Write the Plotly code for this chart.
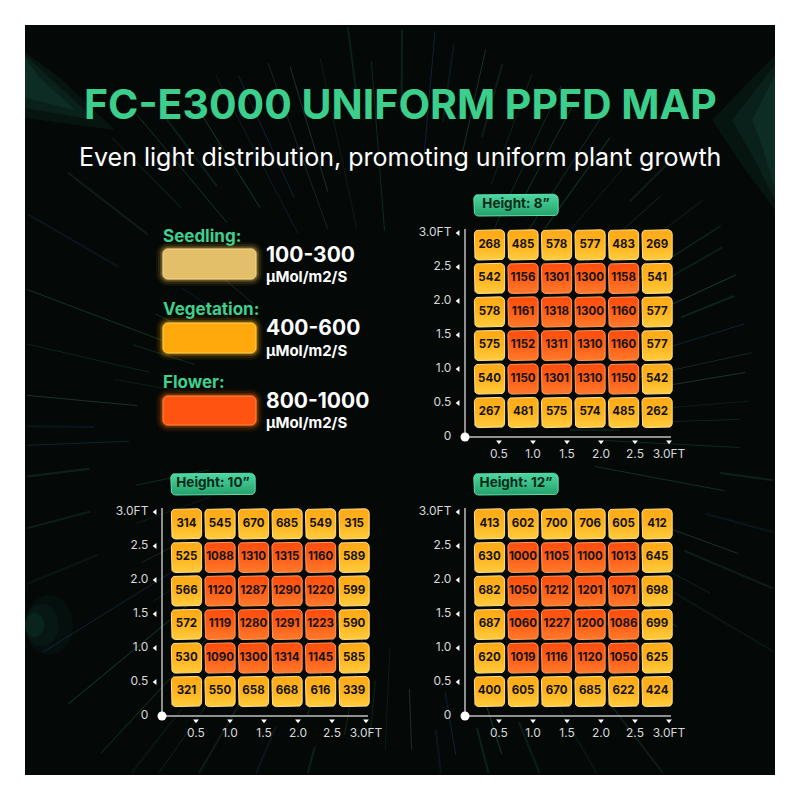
import numpy as np
import plotly.graph_objects as go

# ---------------- data ----------------
TITLE = "FC-E3000 UNIFORM PPFD MAP"
SUBTITLE = "Even light distribution, promoting uniform plant growth"

height_labels = ["Height: 8”", "Height: 10”", "Height: 12”"]

# rows listed from top (3.0 ft) to bottom (0.5 ft)
ppfd_8in = [
    [268, 485, 578, 577, 483, 269],
    [542, 1156, 1301, 1300, 1158, 541],
    [578, 1161, 1318, 1300, 1160, 577],
    [575, 1152, 1311, 1310, 1160, 577],
    [540, 1150, 1301, 1310, 1150, 542],
    [267, 481, 575, 574, 485, 262],
]
ppfd_10in = [
    [314, 545, 670, 685, 549, 315],
    [525, 1088, 1310, 1315, 1160, 589],
    [566, 1120, 1287, 1290, 1220, 599],
    [572, 1119, 1280, 1291, 1223, 590],
    [530, 1090, 1300, 1314, 1145, 585],
    [321, 550, 658, 668, 616, 339],
]
ppfd_12in = [
    [413, 602, 700, 706, 605, 412],
    [630, 1000, 1105, 1100, 1013, 645],
    [682, 1050, 1212, 1201, 1071, 698],
    [687, 1060, 1227, 1200, 1086, 699],
    [620, 1019, 1116, 1120, 1050, 625],
    [400, 605, 670, 685, 622, 424],
]
x_tick_vals = [0.5, 1.0, 1.5, 2.0, 2.5, 3.0]
x_tick_text = ["0.5", "1.0", "1.5", "2.0", "2.5", "3.0FT"]
y_tick_vals = [0, 0.5, 1.0, 1.5, 2.0, 2.5, 3.0]
y_tick_text = ["0", "0.5", "1.0", "1.5", "2.0", "2.5", "3.0FT"]

stage_names = ["Seedling:", "Vegetation:", "Flower:"]
stage_ranges = ["100-300", "400-600", "800-1000"]
stage_unit = "µMol/m2/S"

# ---------------- layout helpers ----------------
W = H = 800
S = 68.0                      # pixels per foot
XR = [-0.4, 3.3]
YR = [-0.45, 3.65]
origins = [(465, 437), (162, 716), (465, 716)]
grids = [ppfd_8in, ppfd_10in, ppfd_12in]

FONT = "Inter, 'Open Sans', sans-serif"


def px(x):
    return x / W


def py(y):
    return 1 - y / H


def rr_pts(x0, y0, x1, y1, r, n=7):
    pts = []
    corners = [(x1 - r, y1 - r, 0), (x0 + r, y1 - r, 90), (x0 + r, y0 + r, 180), (x1 - r, y0 + r, 270)]
    for cx, cy, a0 in corners:
        for t in np.linspace(a0, a0 + 90, n):
            pts.append((cx + r * np.cos(np.radians(t)), cy + r * np.sin(np.radians(t))))
    pts.append(pts[0])
    return [p[0] for p in pts], [p[1] for p in pts]


def rr_path_px(x0, y0, x1, y1, r):
    xs, ys = rr_pts(x0, y0, x1, y1, r)
    return "M " + " L ".join(f"{px(a):.5f},{py(b):.5f}" for a, b in zip(xs, ys)) + " Z"


def poly_path(pts):
    return "M " + " L ".join(f"{px(a):.5f},{py(b):.5f}" for a, b in pts) + " Z"


fig = go.Figure()
shapes = []
annotations = []

# ---------------- background ----------------
shapes.append(dict(type="rect", xref="paper", yref="paper", x0=px(25), x1=px(775),
                   y0=py(775), y1=py(25), fillcolor="#040807", line=dict(width=0), layer="below"))

# soft teal light beams at the edges (layered for a fade)
for k, op in enumerate((0.10, 0.10, 0.12)):
    d = 10 * k
    shapes.append(dict(type="path", xref="paper", yref="paper", layer="below",
                       path=poly_path([(25, 52 + d * 0.3), (60 - d, 78), (115 - 2 * d, 130 - d), (25, 118 - d)]),
                       fillcolor="#2a8a70", opacity=op, line=dict(width=0)))
    shapes.append(dict(type="path", xref="paper", yref="paper", layer="below",
                       path=poly_path([(775, 55 + d), (775, 210 - d), (742 + d, 165 - d), (712 + 2 * d, 120)]),
                       fillcolor="#2a8a70", opacity=op, line=dict(width=0)))
for k, op in enumerate((0.06, 0.08, 0.1)):
    r = 30 - 9 * k
    shapes.append(dict(type="circle", xref="paper", yref="paper", layer="below",
                       x0=px(25), x1=px(25 + 1.6 * r), y0=py(625 + r), y1=py(625 - r),
                       fillcolor="#2a8a70", opacity=op, line=dict(width=0)))

# light-speed rays (decorative)
CX, CY = 400, 430
ray_cols = ["#2f9a64", "#3bb07f", "#2a5c8f", "#4d8f6a", "#235f4d"]
for k in range(90):
    a = np.radians((k * 137.508) % 360)
    r0 = 170 + (k * 53) % 160
    r1 = r0 + 50 + (k * 37) % 130
    dx, dy = np.cos(a), np.sin(a)
    tmax = 1e9
    for dd, c in ((dx, CX), (dy, CY)):
        if dd > 1e-6:
            tmax = min(tmax, (773 - c) / dd)
        elif dd < -1e-6:
            tmax = min(tmax, (27 - c) / dd)
    if r0 >= tmax:
        continue
    r1 = min(r1, tmax)
    x0, y0 = CX + dx * r0, CY + dy * r0
    x1, y1 = CX + dx * r1, CY + dy * r1
    shapes.append(dict(type="line", xref="paper", yref="paper", layer="below",
                       x0=px(x0), y0=py(y0), x1=px(x1), y1=py(y1),
                       line=dict(color=ray_cols[k % len(ray_cols)], width=1 + (k % 3 == 0)),
                       opacity=0.15 + 0.08 * (k % 3)))

# ---------------- title ----------------
annotations.append(dict(x=0.5, y=py(104), xref="paper", yref="paper", showarrow=False,
                        text=f"<b>{TITLE}</b>", xanchor="center", yanchor="middle",
                        font=dict(family=FONT, size=41, color="#3ccf8c", weight=800)))
annotations.append(dict(x=0.5, y=py(157), xref="paper", yref="paper", showarrow=False,
                        text=SUBTITLE, xanchor="center", yanchor="middle",
                        font=dict(family=FONT, size=25, color="#ffffff")))

# ---------------- legend ----------------
leg_boxes = [(249, 279), (323, 353), (396, 425)]
leg_fill = ["#E4BF69", "#FFA90C", "#FF5312"]
leg_glow = ["#F2C24A", "#FFB000", "#FF6A00"]
leg_edge = ["#F6DA90", "#FFD160", "#FF8A45"]
leg_label_y = [236, 309, 382]
leg_range_y = [254, 328, 400]
leg_unit_y = [276, 350, 422]
for i in range(3):
    y0, y1 = leg_boxes[i]
    for g, op in ((7, 0.06), (5, 0.1), (3, 0.18), (1.5, 0.3)):
        shapes.append(dict(type="path", xref="paper", yref="paper", layer="above",
                           path=rr_path_px(163 - g, y0 - g, 256 + g, y1 + g, 5 + g),
                           fillcolor=leg_glow[i], opacity=op, line=dict(width=0)))
    shapes.append(dict(type="path", xref="paper", yref="paper", layer="above",
                       path=rr_path_px(163, y0, 256, y1, 5),
                       fillcolor=leg_fill[i], line=dict(color=leg_edge[i], width=1)))
    annotations.append(dict(x=px(161), y=py(leg_label_y[i]), xref="paper", yref="paper",
                            showarrow=False, xanchor="left", yanchor="middle",
                            text=f"<b>{stage_names[i]}</b>",
                            font=dict(family=FONT, size=17, color="#3fd08f")))
    annotations.append(dict(x=px(264), y=py(leg_range_y[i]), xref="paper", yref="paper",
                            showarrow=False, xanchor="left", yanchor="middle",
                            text=f"<b>{stage_ranges[i]}</b>",
                            font=dict(family=FONT, size=21, color="#ffffff", weight=800)))
    annotations.append(dict(x=px(264), y=py(leg_unit_y[i]), xref="paper", yref="paper",
                            showarrow=False, xanchor="left", yanchor="middle",
                            text=f"<b>{stage_unit}</b>",
                            font=dict(family=FONT, size=15, color="#ffffff")))

# ---------------- grids ----------------
layout_axes = {}
for g, (grid, (ox, oy)) in enumerate(zip(grids, origins)):
    sfx = "" if g == 0 else str(g + 1)
    xa, ya = "x" + sfx, "y" + sfx
    layout_axes["xaxis" + sfx] = dict(
        domain=[(ox + XR[0] * S) / W, (ox + XR[1] * S) / W], range=XR, visible=False,
        anchor=ya, fixedrange=True, showgrid=False, zeroline=False)
    layout_axes["yaxis" + sfx] = dict(
        domain=[1 - (oy - YR[0] * S) / H, 1 - (oy - YR[1] * S) / H], range=YR, visible=False,
        anchor=xa, fixedrange=True, showgrid=False, zeroline=False)

    # height label box
    hx, hy = rr_pts(0.13, 3.25, 1.37, 3.57, 0.07)
    fig.add_trace(go.Scatter(x=hx, y=hy, fill="toself", mode="lines",
                             line=dict(color="#5fe0ae", width=1),
                             fillgradient=dict(type="vertical",
                                               colorscale=[[0, "#24a06a"], [1, "#4fd8a2"]]),
                             xaxis=xa, yaxis=ya, hoverinfo="skip", showlegend=False))
    fig.add_trace(go.Scatter(x=[0.75], y=[3.41], text=[f"<b>{height_labels[g]}</b>"], mode="text",
                             textfont=dict(family=FONT, size=13.5, color="#062a1a"),
                             xaxis=xa, yaxis=ya, hoverinfo="skip", showlegend=False, cliponaxis=False))

    # axis lines
    fig.add_trace(go.Scatter(x=[0, 0, 3.03], y=[3.06, 0, 0], mode="lines",
                             line=dict(color="#bdbdbd", width=1.5),
                             xaxis=xa, yaxis=ya, hoverinfo="skip", showlegend=False))
    fig.add_trace(go.Scatter(x=[0], y=[0], mode="markers",
                             marker=dict(color="#ffffff", size=9),
                             xaxis=xa, yaxis=ya, hoverinfo="skip", showlegend=False, cliponaxis=False))
    # tick triangles
    fig.add_trace(go.Scatter(x=x_tick_vals, y=[-0.07] * len(x_tick_vals), mode="markers",
                             marker=dict(symbol="triangle-down", color="#ffffff", size=5),
                             xaxis=xa, yaxis=ya, hoverinfo="skip", showlegend=False, cliponaxis=False))
    fig.add_trace(go.Scatter(x=[-0.1] * (len(y_tick_vals) - 1), y=y_tick_vals[1:], mode="markers",
                             marker=dict(symbol="triangle-left", color="#ffffff", size=5),
                             xaxis=xa, yaxis=ya, hoverinfo="skip", showlegend=False, cliponaxis=False))
    # tick labels
    fig.add_trace(go.Scatter(x=x_tick_vals, y=[-0.27] * len(x_tick_vals), text=x_tick_text,
                             mode="text", textposition="middle center",
                             textfont=dict(family=FONT, size=12, color="#d9d9d9"),
                             xaxis=xa, yaxis=ya, hoverinfo="skip", showlegend=False, cliponaxis=False))
    fig.add_trace(go.Scatter(x=[-0.2] * len(y_tick_vals), y=y_tick_vals, text=y_tick_text,
                             mode="text", textposition="middle left",
                             textfont=dict(family=FONT, size=12, color="#d9d9d9"),
                             xaxis=xa, yaxis=ya, hoverinfo="skip", showlegend=False, cliponaxis=False))

    # cells
    tx, ty, tt = [], [], []
    n_rows = len(grid)
    for i, row in enumerate(grid):
        for j, v in enumerate(row):
            cx = 0.36 + 0.493 * j
            cy = 0.36 + 0.493 * (n_rows - 1 - i)
            xs, ys = rr_pts(cx - 0.222, cy - 0.222, cx + 0.222, cy + 0.222, 0.065)
            if v >= 800:
                cs = [[0, "#FF7A2C"], [0.5, "#FF5E16"], [1, "#FF4C0E"]]
                edge = "#FF9A5A"
            else:
                cs = [[0, "#FFCC3E"], [0.5, "#FFB31E"], [1, "#FFAA16"]]
                edge = "#FFE08A"
            fig.add_trace(go.Scatter(x=xs, y=ys, fill="toself", mode="lines",
                                     line=dict(color=edge, width=1),
                                     fillgradient=dict(type="vertical", colorscale=cs),
                                     xaxis=xa, yaxis=ya, hoverinfo="skip", showlegend=False))
            tx.append(cx)
            ty.append(cy)
            tt.append(f"<b>{v}</b>")
    fig.add_trace(go.Scatter(x=tx, y=ty, text=tt, mode="text", textposition="middle center",
                             textfont=dict(family=FONT, size=11.5, color="#141414"),
                             xaxis=xa, yaxis=ya, hoverinfo="skip", showlegend=False, cliponaxis=False))

fig.update_layout(
    width=W, height=H, autosize=False,
    margin=dict(l=0, r=0, t=0, b=0, pad=0),
    paper_bgcolor="#ffffff", plot_bgcolor="rgba(0,0,0,0)",
    shapes=shapes, annotations=annotations, showlegend=False,
    **layout_axes,
)

fig.write_html("out.html", config={"displayModeBar": False})
